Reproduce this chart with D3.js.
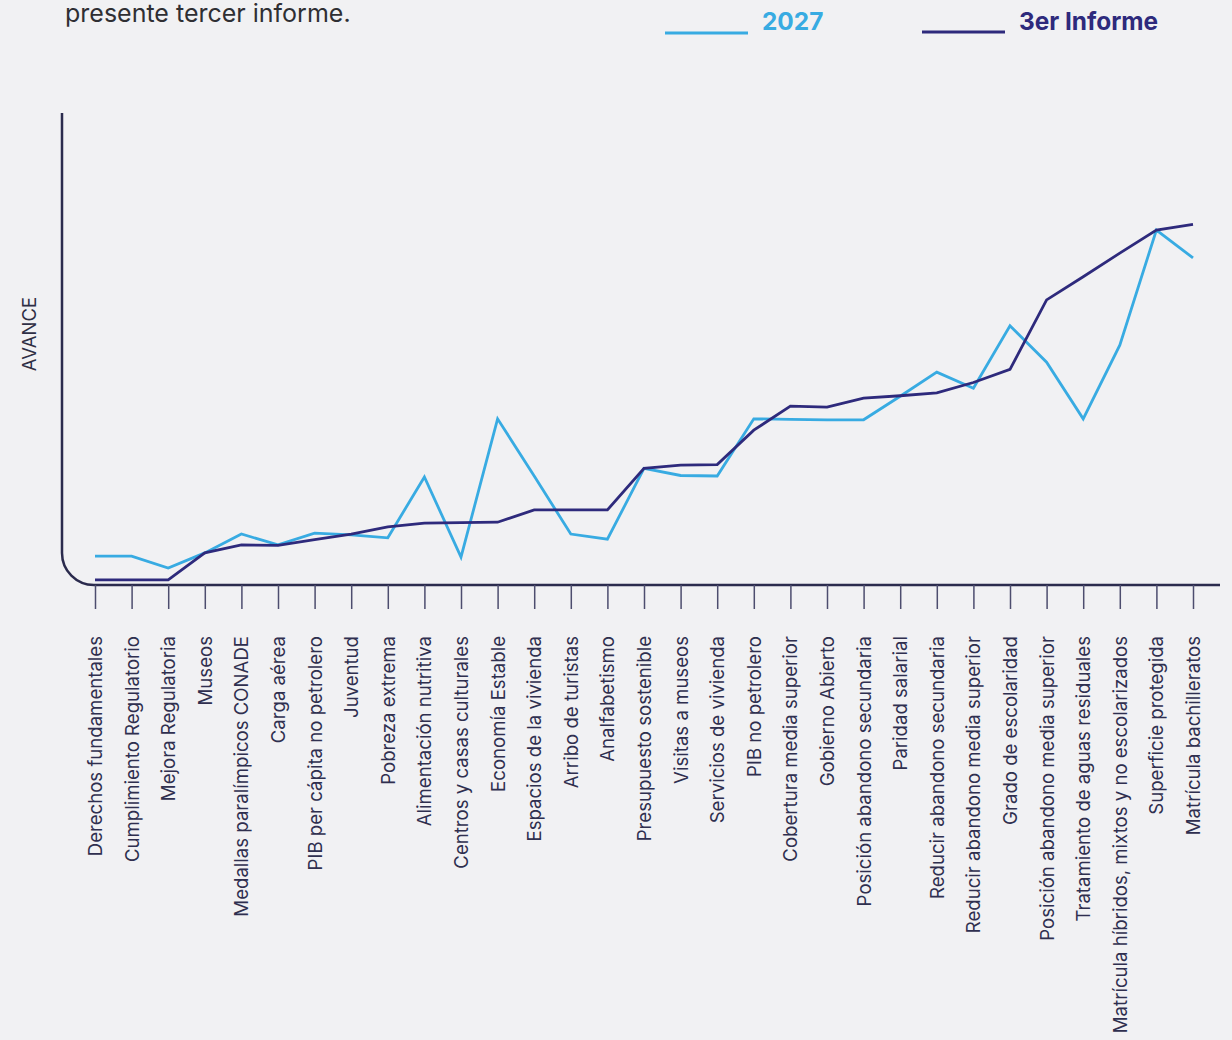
<!DOCTYPE html>
<html><head><meta charset="utf-8">
<script src="https://cdn.jsdelivr.net/npm/d3@7"></script>
<style>
html,body{margin:0;padding:0;background:#f1f1f3;}
svg{display:block;}
</style></head>
<body>
<svg id="chart" width="1232" height="1040"></svg>
<script>
const categories = ["Derechos fundamentales","Cumplimiento Regulatorio","Mejora Regulatoria","Museos","Medallas paralímpicos CONADE","Carga aérea","PIB per cápita no petrolero","Juventud","Pobreza extrema","Alimentación nutritiva","Centros y casas culturales","Economía Estable","Espacios de la vivienda","Arribo de turistas","Analfabetismo","Presupuesto sostenible","Visitas a museos","Servicios de vivienda","PIB no petrolero","Cobertura media superior","Gobierno Abierto","Posición abandono secundaria","Paridad salarial","Reducir abandono secundaria","Reducir abandono media superior","Grado de escolaridad","Posición abandono media superior","Tratamiento de aguas residuales","Matrícula híbridos, mixtos y no escolarizados","Superficie protegida","Matrícula bachilleratos"];
const meta2027 = [6.1,6.1,3.6,6.8,10.8,8.5,11.0,10.6,10.0,22.9,5.9,35.2,23.1,10.8,9.7,24.7,23.2,23.1,35.2,35.1,35.0,35.0,40.0,45.1,41.7,54.9,47.2,35.2,50.8,75.2,69.3];
const informe3 = [1.1,1.1,1.1,6.8,8.5,8.4,9.6,10.8,12.3,13.1,13.2,13.3,15.9,15.9,15.9,24.7,25.4,25.5,32.8,37.9,37.7,39.6,40.1,40.7,42.9,45.7,60.4,65.3,70.3,75.2,76.4];
const seriesNames = ["2027","3er Informe"];
const colors = ["#38abe2","#2e2a7c"];

const svg = d3.select("#chart");
const axisColor = "#2b2b4d";
const x = d3.scalePoint().domain(categories).range([95, 1193]);
const y = d3.scaleLinear().domain([0,100]).range([585,113]);

// top text
svg.append("text").attr("x",65).attr("y",22).attr("font-family","Inter, 'Open Sans', sans-serif")
  .attr("font-size",25).attr("fill","#2f2f33").text("presente tercer informe.");

// legend
const leg = [{x1:665,x2:748,tx:762,y:33},{x1:922,x2:1005,tx:1019,y:32}];
seriesNames.forEach((n,i)=>{
  svg.append("line").attr("x1",leg[i].x1).attr("x2",leg[i].x2).attr("y1",leg[i].y).attr("y2",leg[i].y)
    .attr("stroke",colors[i]).attr("stroke-width",3);
  svg.append("text").attr("x",leg[i].tx).attr("y",30).attr("font-family","Inter, Roboto, sans-serif")
    .attr("font-weight",700).attr("font-size",24.4).attr("fill",colors[i]).text(n);
});

// y label
svg.append("text").attr("transform","translate(36,334) rotate(-90)").attr("text-anchor","middle")
  .attr("font-family","Inter, 'Open Sans', sans-serif").attr("font-size",18.5).attr("fill","#2f2f45")
  .text("AVANCE");

// axes frame with rounded corner
const r = 32;
svg.append("path").attr("d",`M62,113 L62,${585-r} A${r},${r} 0 0 0 ${62+r},585 L1220,585`)
  .attr("fill","none").attr("stroke",axisColor).attr("stroke-width",2.5);

// x axis ticks and labels via d3 axis
const xAxis = d3.axisBottom(x).tickSize(24).tickPadding(0).tickFormat("");
const gx = svg.append("g").attr("transform","translate(0,585)").call(xAxis);
gx.select(".domain").remove();
gx.selectAll(".tick line").attr("stroke","#4d4d6e").attr("stroke-width",1.5);
gx.selectAll(".tick").append("text")
  .attr("transform","translate(6.5,51) rotate(-90)")
  .attr("text-anchor","end").attr("fill","#2f2f4f")
  .attr("font-family","Inter, 'Open Sans', sans-serif").attr("font-size",18.6)
  .text(d=>d);

// lines
const line = d3.line().x((d,i)=>x(categories[i])).y(d=>y(d));
[meta2027, informe3].forEach((s,i)=>{
  svg.append("path").datum(s).attr("d",line).attr("fill","none")
    .attr("stroke",colors[i]).attr("stroke-width",2.8).attr("stroke-linejoin","miter");
});
</script>
</body></html>
